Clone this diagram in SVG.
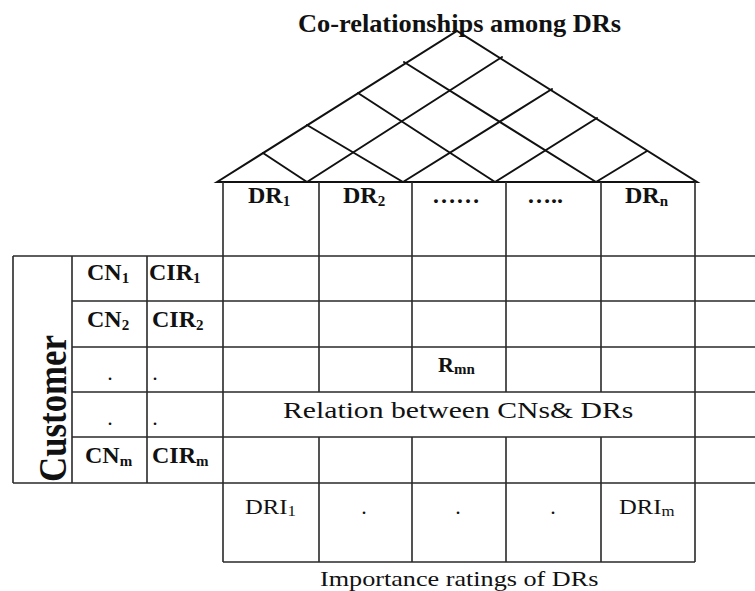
<svg xmlns="http://www.w3.org/2000/svg" width="755" height="591" viewBox="0 0 755 591">
<style>
.bg{fill:#fff}
.roof{stroke:#111;stroke-width:2;fill:none;stroke-linecap:round}
.grid{stroke:#2a2a2a;stroke-width:1.6;fill:none}
.b{font-family:"Liberation Serif","Times New Roman",serif;font-weight:bold;fill:#111}
.r{font-family:"Liberation Serif","Times New Roman",serif;font-weight:normal;fill:#111}
.sub{font-size:15px}
</style>
<rect class="bg" x="0" y="0" width="755" height="591"/>

<g id="title">
<text class="b" x="298" y="32" font-size="26" textLength="323" lengthAdjust="spacingAndGlyphs">Co-relationships among DRs</text>
</g>

<g id="roof">
<path class="roof" d="M217,182 L457,31 L697,182 Z"/>
<path class="roof" d="M307,182 L263,153 M403,182 L307,125 M495,182 L358,93 M596,182 L404,62"/>
<path class="roof" d="M307,182 L502,57 M403,182 L552,89 M495,182 L597,118 M596,182 L647,151"/>
</g>

<g id="grid">
<path class="grid" d="M13,256 H755 M72,301 H755 M72,347 H755 M72,392 H755 M72,437 H755 M13,483 H755 M223,562 H695"/>
<path class="grid" d="M13,256 V483 M72,256 V483 M147,256 V483"/>
<path class="grid" d="M223,182 V562 M695,182 V562"/>
<path class="grid" d="M319,182 V392 M412,182 V392 M506,182 V392 M601,182 V392"/>
<path class="grid" d="M319,437 V562 M412,437 V562 M506,437 V562 M601,437 V562"/>
</g>

<g id="dr-headers">
<text class="b" x="248" y="203" font-size="24">DR<tspan class="sub" dy="3">1</tspan></text>
<text class="b" x="343" y="203" font-size="24">DR<tspan class="sub" dy="3">2</tspan></text>
<text class="b" x="432" y="203" font-size="24">……</text>
<text class="b" x="527" y="203" font-size="24">…..</text>
<text class="b" x="625" y="203" font-size="24">DR<tspan class="sub" dy="3">n</tspan></text>
</g>

<g id="customer-label">
<text class="b" font-size="40" text-anchor="middle" textLength="147" lengthAdjust="spacingAndGlyphs" transform="translate(66,408.5) rotate(-90)">Customer</text>
</g>

<g id="customer-needs">
<text class="b" x="87" y="280" font-size="24">CN<tspan class="sub" dy="3">1</tspan></text>
<text class="b" x="149" y="280" font-size="24">CIR<tspan class="sub" dy="3">1</tspan></text>
<text class="b" x="87" y="327" font-size="24">CN<tspan class="sub" dy="3">2</tspan></text>
<text class="b" x="152" y="327" font-size="24">CIR<tspan class="sub" dy="3">2</tspan></text>
<text class="r" x="110" y="380" font-size="22" text-anchor="middle">.</text>
<text class="r" x="155" y="380" font-size="22" text-anchor="middle">.</text>
<text class="r" x="110" y="425" font-size="22" text-anchor="middle">.</text>
<text class="r" x="155" y="425" font-size="22" text-anchor="middle">.</text>
<text class="b" x="85" y="463" font-size="24">CN<tspan class="sub" dy="3">m</tspan></text>
<text class="b" x="152" y="463" font-size="24">CIR<tspan class="sub" dy="3">m</tspan></text>
</g>

<g id="relation-matrix">
<text class="b" x="438" y="372" font-size="22">R<tspan class="sub" dy="2">mn</tspan></text>
<text class="r" x="0" y="0" font-size="24" transform="translate(283,418) scale(1.237,1)">Relation between CNs&amp; DRs</text>
</g>

<g id="importance-row">
<text class="r" x="0" y="0" font-size="22" transform="translate(245,514) scale(1.12,1)">DRI<tspan font-size="15" dy="2">1</tspan></text>
<text class="r" x="364" y="514" font-size="22" text-anchor="middle">.</text>
<text class="r" x="458" y="514" font-size="22" text-anchor="middle">.</text>
<text class="r" x="553" y="514" font-size="22" text-anchor="middle">.</text>
<text class="r" x="0" y="0" font-size="22" transform="translate(619,514) scale(1.12,1)">DRI<tspan font-size="15" dy="2">m</tspan></text>
<text class="r" x="0" y="0" font-size="22" transform="translate(320,586) scale(1.19,1)">Importance ratings of DRs</text>
</g>
</svg>
